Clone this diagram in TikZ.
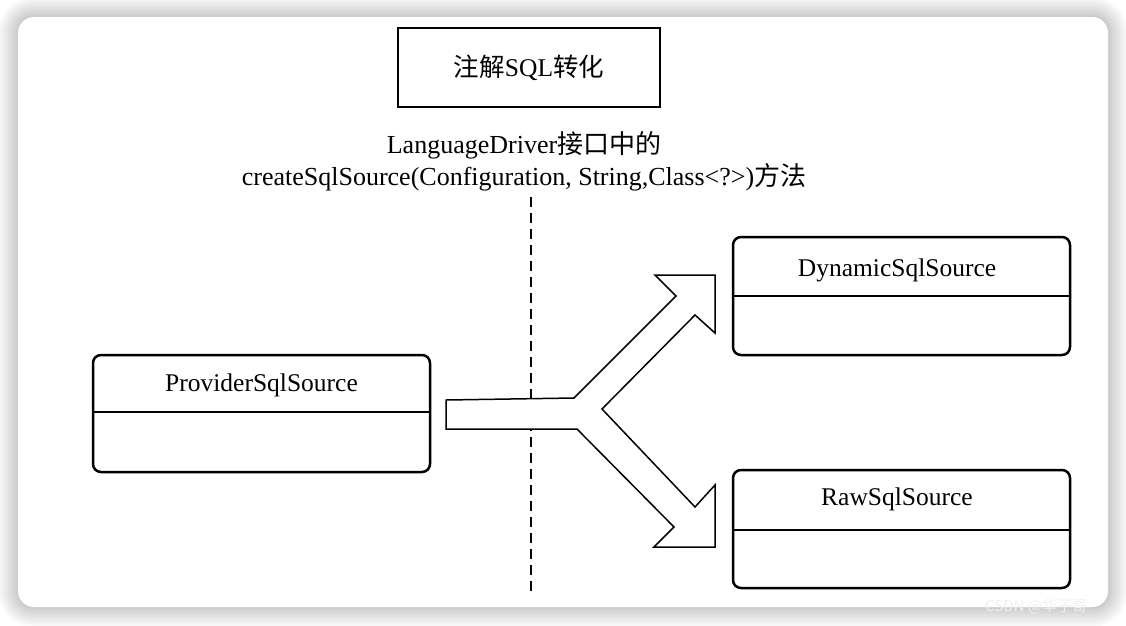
\documentclass[tikz,border=0pt]{standalone}
\usepackage{fontspec}
\setmainfont{Liberation Serif}
\newfontfamily\cjk{Noto Sans CJK SC}
\begin{document}
\begin{tikzpicture}[x=1pt,y=-1pt,
  txt/.style={font=\fontsize{25.5}{32}\selectfont, inner sep=0pt},
  captxt/.style={font=\fontsize{26}{32}\selectfont, inner sep=0pt},
  titlebox/.style={draw, line width=2.5pt, minimum width=262pt, minimum height=79pt},
  cls/.style={draw, line width=2.5pt, rounded corners=8pt, minimum width=337pt, inner sep=0pt},
  divline/.style={line width=2.5pt},
  branch/.style={draw, line width=1.5pt, line join=miter, fill=white},
  sepline/.style={line width=1.5pt, dash pattern=on 10pt off 6pt}
]
\useasboundingbox (0,0) rectangle (1126,625);
\clip (0,0) rectangle (1126,625);
% shadow and card
\fill[white] (0,0) rectangle (1126,625);
\foreach \d [evaluate=\d as \r using 16+\d] in {2,4,...,20}
  \fill[black, opacity=0.018, rounded corners=\r pt] (18-\d,17-\d) rectangle (1108+\d,607+\d);
\fill[white, rounded corners=16pt] (18,17) rectangle (1108,607);

% title
\node[titlebox, txt] (title) at (529,67.5) {{\cjk 注解}SQL{\cjk 转化}};
% caption
\node[captxt, align=center] (cap) at (524,161) {LanguageDriver{\cjk 接口中的}\\createSqlSource(Configuration, String,Class<?>){\cjk 方法}};

% separator
\coordinate (s1) at (531,197);
\coordinate (s2) at (531,597);
\draw[sepline] (s1) -- (s2);

% branching arrow
\draw[branch] (446,400) -- (574,398) -- (676,296) -- (655,275) -- (715,275) -- (715,333)
  -- (695,315) -- (602,409) -- (695,507) -- (715,485) -- (715,547) -- (654,547)
  -- (674,527) -- (577,429) -- (446,429) -- cycle;

% class boxes
\node[cls, minimum height=117pt] (prov) at (261.5,413.5) {};
\draw[divline] (prov.west) ++(0,-1.5) -- ([yshift=1.5pt]prov.east);
\node[txt] (provt) at (261.5,385) {ProviderSqlSource};

\node[cls, minimum height=118pt] (dyn) at (901.5,296) {};
\draw[divline] (dyn.west) -- (dyn.east);
\node[txt] (dynt) at (897,270) {DynamicSqlSource};

\node[cls, minimum height=118pt] (raw) at (901.5,529) {};
\draw[divline] (raw.west) ++(0,1) -- ([yshift=-1pt]raw.east);
\node[txt] (rawt) at (897,499) {RawSqlSource};

% watermark
\node[anchor=west, text=gray!12, font=\cjk\fontsize{15}{15}\selectfont, inner sep=0pt] (wm) at (985,606) {CSDN @华子哥};
\end{tikzpicture}
\end{document}
